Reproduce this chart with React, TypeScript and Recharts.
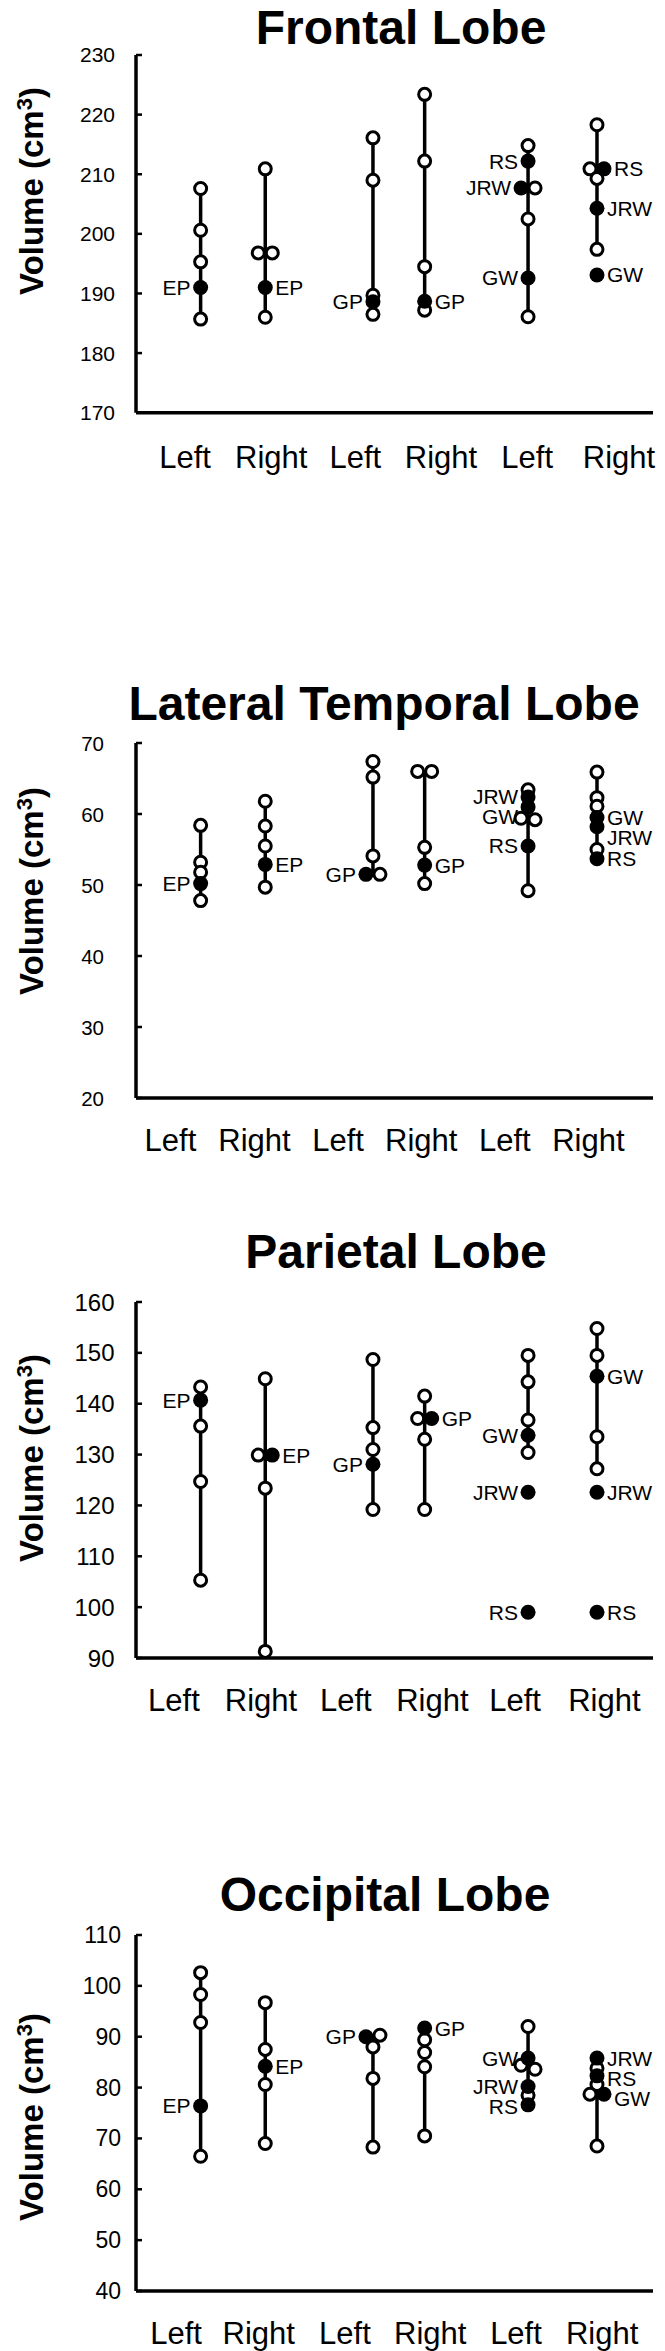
import React from "react";
import { ScatterChart, Scatter, XAxis, YAxis } from "recharts";

// category of each column, and its place on the x scale (0..12)
const sides = ["Left", "Right", "Left", "Right", "Left", "Right"];
const columnPos = [1.5, 3.0, 5.5, 6.7, 9.1, 10.7];
// patient -> which Left/Right pair of columns
const patientGroup: Record<string, number> = { EP: 0, GP: 1, GW: 2, JRW: 2, RS: 2 };

// Frontal lobe
const frontalTicks = [170, 180, 190, 200, 210, 220, 230];
const frontalControls = [
  [207.6, 200.6, 195.3, 185.7],
  [210.9, 196.8, 196.8, 186.0],
  [216.1, 209.0, 189.7, 186.5],
  [223.4, 212.2, 194.5, 187.2],
  [214.8, 207.7, 202.5, 186.1],
  [218.3, 210.9, 209.3, 197.4],
];
const frontalPatients = {
  EP: [191.0, 191.0],
  GP: [188.6, 188.7],
  GW: [192.6, 193.1],
  JRW: [207.7, 204.3],
  RS: [212.2, 210.9],
};

// Lateral temporal lobe
const temporalTicks = [20, 30, 40, 50, 60, 70];
const temporalControls = [
  [58.4, 53.2, 51.8, 47.8],
  [61.8, 58.3, 55.5, 49.7],
  [67.4, 65.2, 54.1, 51.5],
  [66.0, 66.0, 55.3, 50.2],
  [63.4, 59.2, 59.4, 49.2],
  [65.9, 62.3, 61.1, 55.0],
];
const temporalPatients = {
  EP: [50.2, 52.9],
  GP: [51.5, 52.8],
  GW: [61.0, 59.5],
  JRW: [62.4, 58.2],
  RS: [55.5, 53.7],
};

// Parietal lobe
const parietalTicks = [90, 100, 110, 120, 130, 140, 150, 160];
const parietalControls = [
  [143.3, 135.6, 124.7, 105.3],
  [144.9, 129.9, 123.4, 91.3],
  [148.7, 135.3, 131.0, 119.2],
  [141.5, 137.1, 133.0, 119.2],
  [149.5, 144.3, 136.8, 130.4],
  [154.8, 149.5, 133.5, 127.2],
];
const parietalPatients = {
  EP: [140.7, 129.9],
  GP: [128.1, 137.1],
  GW: [133.8, 145.4],
  JRW: [122.6, 122.6],
  RS: [99.0, 99.0],
};

// Occipital lobe
const occipitalTicks = [40, 50, 60, 70, 80, 90, 100, 110];
const occipitalControls = [
  [102.6, 98.3, 92.8, 66.5],
  [96.7, 87.5, 80.6, 69.0],
  [90.3, 88.0, 81.8, 68.3],
  [89.4, 86.9, 84.1, 70.5],
  [92.0, 84.4, 83.6, 78.5],
  [83.8, 80.6, 78.7, 68.5],
];
const occipitalPatients = {
  EP: [76.4, 84.2],
  GP: [90.0, 91.7],
  GW: [85.8, 78.7],
  JRW: [80.2, 85.8],
  RS: [76.6, 82.3],
};

const FONT = "'Liberation Sans', Arial, Helvetica, sans-serif";
const PAD_TOP = 20;
const X_AXIS_H = 80;
const PLOT_LEFT = 136;
const LABEL_GAP = 20;

const panels = [
  {
    title: "Frontal Lobe", ticks: frontalTicks, controls: frontalControls, patients: frontalPatients,
    plotTop: 55, plotBottom: 412.7, titleX: 401, titleY: 44, labelY: 191,
    tickFont: 21, tickRight: 115, xLabelDy: 45,
    xTicks: [1.14, 3.14, 5.09, 7.08, 9.08, 11.21],
  },
  {
    title: "Lateral Temporal Lobe", ticks: temporalTicks, controls: temporalControls, patients: temporalPatients,
    plotTop: 742.7, plotBottom: 1097.7, titleX: 384, titleY: 720, labelY: 891,
    tickFont: 20.5, tickRight: 104, xLabelDy: 42,
    xTicks: [0.8, 2.75, 4.69, 6.62, 8.56, 10.5],
  },
  {
    title: "Parietal Lobe", ticks: parietalTicks, controls: parietalControls, patients: parietalPatients,
    plotTop: 1301.7, plotBottom: 1657.7, titleX: 396, titleY: 1268, labelY: 1458,
    tickFont: 24, tickRight: 114.5, xLabelDy: 42,
    xTicks: [0.88, 2.9, 4.87, 6.88, 8.8, 10.87],
  },
  {
    title: "Occipital Lobe", ticks: occipitalTicks, controls: occipitalControls, patients: occipitalPatients,
    plotTop: 1935, plotBottom: 2291, titleX: 385, titleY: 1910.7, labelY: 2117,
    tickFont: 23, tickRight: 121, xLabelDy: 42,
    xTicks: [0.93, 2.85, 4.85, 6.83, 8.82, 10.82],
  },
];

type Pt = { x: number; y: number; dx: number; name?: string; side?: string; labelDy?: number };

// spread overlapping dots sideways and keep patient labels from colliding
function buildColumn(col: number, controls: number[], patients: Record<string, number[]>, hi: number, pxPerUnit: number) {
  const side = col % 2 === 0 ? "left" : "right";
  const items: { v: number; name?: string }[] = controls.map((v) => ({ v }));
  Object.keys(patients).forEach((name) => {
    if (patientGroup[name] * 2 === col || patientGroup[name] * 2 + 1 === col) {
      items.push({ v: patients[name][col % 2], name });
    }
  });
  items.sort((a, b) => b.v - a.v);

  const clusters: (typeof items)[] = [];
  items.forEach((it, i) => {
    if (i > 0 && (items[i - 1].v - it.v) * pxPerUnit < 5) clusters[clusters.length - 1].push(it);
    else clusters.push([it]);
  });

  const opens: Pt[] = [];
  const filled: Pt[] = [];
  clusters.forEach((cl) => {
    const ordered = [...cl].sort((a, b) => {
      const fa = a.name ? 1 : 0;
      const fb = b.name ? 1 : 0;
      return side === "left" ? fb - fa : fa - fb;
    });
    ordered.forEach((it, i) => {
      const dx = ordered.length > 1 ? -7 + (14 * i) / (ordered.length - 1) : 0;
      const p: Pt = { x: columnPos[col], y: it.v, dx };
      if (it.name) filled.push({ ...p, name: it.name, side });
      else opens.push(p);
    });
  });

  let prev = -Infinity;
  filled
    .sort((a, b) => b.y - a.y)
    .forEach((p) => {
      const py = (hi - p.y) * pxPerUnit;
      const ly = Math.max(py, prev + LABEL_GAP);
      p.labelDy = ly - py;
      prev = ly;
    });

  return { opens, filled, range: [Math.min(...controls), Math.max(...controls)] };
}

const OpenDot = (props: any) => (
  <circle cx={props.cx + props.payload.dx} cy={props.cy} r={6} fill="#fff" stroke="#000" strokeWidth={3} />
);

const FilledDot = (props: any) => {
  const { cx, cy, payload } = props;
  const x = cx + payload.dx;
  const left = payload.side === "left";
  return (
    <g>
      <circle cx={x} cy={cy} r={7.5} fill="#000" />
      <text
        x={left ? x - 10 : x + 10}
        y={cy + payload.labelDy}
        textAnchor={left ? "end" : "start"}
        dominantBaseline="central"
        fontSize={21}
        fontFamily={FONT}
        fill="#000"
      >
        {payload.name}
      </text>
    </g>
  );
};

function Panel({ cfg }: { cfg: (typeof panels)[number] }) {
  const plotH = cfg.plotBottom - cfg.plotTop;
  const lo = cfg.ticks[0];
  const hi = cfg.ticks[cfg.ticks.length - 1];
  const pxPerUnit = plotH / (hi - lo);
  const cols = cfg.controls.map((c, i) => buildColumn(i, c, cfg.patients, hi, pxPerUnit));
  const opens = cols.flatMap((c) => c.opens);
  const filled = cols.flatMap((c) => c.filled);

  return (
    <div style={{ position: "absolute", left: 0, top: cfg.plotTop - PAD_TOP }}>
      <ScatterChart
        width={665}
        height={plotH + PAD_TOP + X_AXIS_H}
        margin={{ top: PAD_TOP, right: 12, bottom: 0, left: 0 }}
      >
        <XAxis
          type="number"
          dataKey="x"
          domain={[0, 12]}
          ticks={cfg.xTicks}
          interval={0}
          height={X_AXIS_H}
          axisLine={{ stroke: "#000", strokeWidth: 3.5 }}
          tickLine={false}
          tick={(p: any) => {
            const i = cfg.xTicks.indexOf(p.payload.value);
            return (
              <text
                x={p.x}
                y={PAD_TOP + plotH + cfg.xLabelDy}
                textAnchor="middle"
                dominantBaseline="central"
                fontSize={31}
                fontFamily={FONT}
                fill="#000"
              >
                {sides[i >= 0 ? i : p.index]}
              </text>
            );
          }}
        />
        <YAxis
          type="number"
          dataKey="y"
          domain={[lo, hi]}
          ticks={cfg.ticks}
          interval={0}
          width={PLOT_LEFT}
          axisLine={{ stroke: "#000", strokeWidth: 3.5 }}
          tickLine={false}
          tick={(p: any) => (
            <g>
              <line x1={PLOT_LEFT} x2={PLOT_LEFT + 6} y1={p.y} y2={p.y} stroke="#000" strokeWidth={2.5} />
              <text
                x={cfg.tickRight}
                y={p.y}
                textAnchor="end"
                dominantBaseline="central"
                fontSize={cfg.tickFont}
                fontFamily={FONT}
                fill="#000"
              >
                {p.payload.value}
              </text>
            </g>
          )}
        />
        {cols.map((c, i) => (
          <Scatter
            key={"range" + i}
            data={[
              { x: columnPos[i], y: c.range[0] },
              { x: columnPos[i], y: c.range[1] },
            ]}
            line={{ stroke: "#000", strokeWidth: 3.5 }}
            stroke="#000"
            shape={() => <g />}
            isAnimationActive={false}
          />
        ))}
        <Scatter data={opens} shape={OpenDot} isAnimationActive={false} />
        <Scatter data={filled} shape={FilledDot} isAnimationActive={false} />
      </ScatterChart>
    </div>
  );
}

export default function App() {
  return (
    <div
      style={{
        position: "absolute",
        left: 0,
        top: 0,
        width: 665,
        height: 2351,
        background: "#fff",
        overflow: "hidden",
      }}
    >
      <svg width={665} height={2351} style={{ position: "absolute", left: 0, top: 0 }}>
        {panels.map((p) => (
          <g key={p.title} fontFamily={FONT} fill="#000">
            <text x={p.titleX} y={p.titleY} textAnchor="middle" fontSize={48} fontWeight="bold">
              {p.title}
            </text>
            <text
              transform={`translate(43, ${p.labelY}) rotate(-90)`}
              textAnchor="middle"
              fontSize={33}
              fontWeight="bold"
            >
              Volume (cm
              <tspan dy={-11} fontSize={22}>
                3
              </tspan>
              <tspan dy={11}>)</tspan>
            </text>
          </g>
        ))}
      </svg>
      {panels.map((p) => (
        <Panel key={p.title} cfg={p} />
      ))}
    </div>
  );
}
